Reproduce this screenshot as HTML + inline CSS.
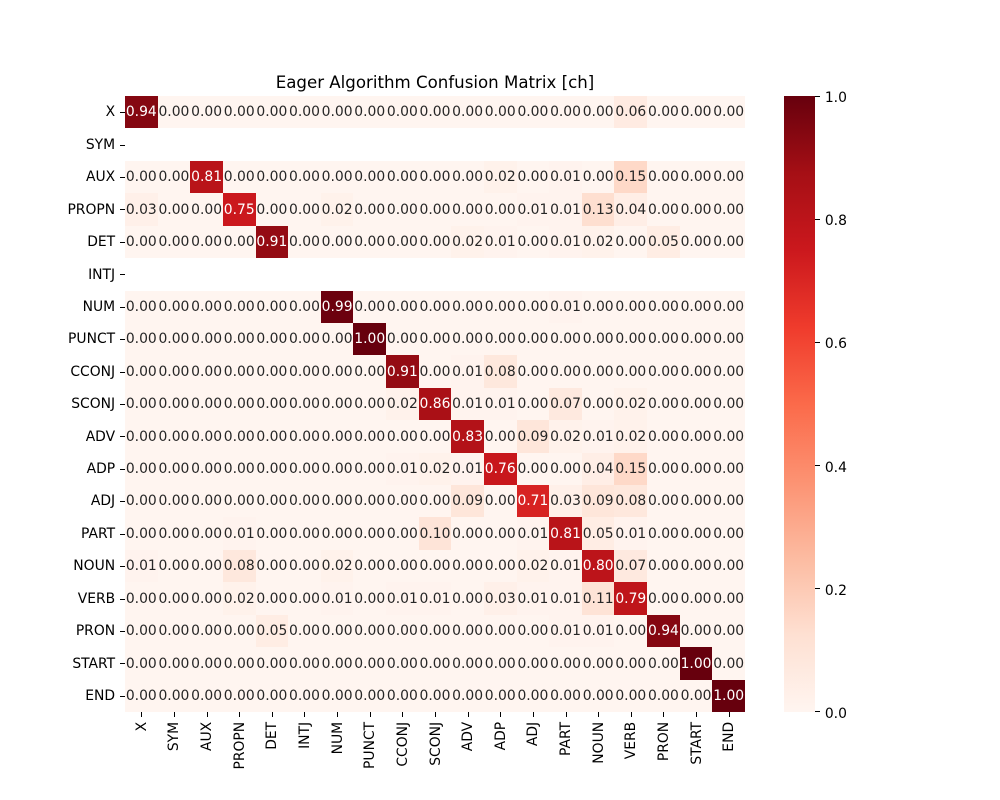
<!DOCTYPE html>
<html lang="en">
<head>
<meta charset="utf-8">
<title>Eager Algorithm Confusion Matrix [ch]</title>
<style>
  html, body { margin: 0; padding: 0; background: #fff; }
  svg { display: block; }
  text { font-family: "DejaVu Sans", "Liberation Sans", sans-serif; font-size: 13.89px; fill: #000; }
  #plot-title { font-size: 16.64px; }
</style>
</head>
<body>
<svg id="chart" width="1000" height="800" viewBox="0 0 1000 800" xmlns="http://www.w3.org/2000/svg">
  <defs>
    <linearGradient id="reds-gradient" x1="0" y1="1" x2="0" y2="0"></linearGradient>
  </defs>
  <text id="plot-title" x="435" y="88" text-anchor="middle">Eager Algorithm Confusion Matrix [ch]</text>
  <g id="cells"></g>
  <g id="annotations"></g>
  <g id="y-axis"></g>
  <g id="x-axis"></g>
  <g id="colorbar"></g>
</svg>
<script>
const categories = ["X","SYM","AUX","PROPN","DET","INTJ","NUM","PUNCT","CCONJ","SCONJ","ADV","ADP","ADJ","PART","NOUN","VERB","PRON","START","END"];
const rowX     = [0.94,0,0,0,0,0,0,0,0,0,0,0,0,0,0,0.06,0,0,0];
const rowSYM   = null;
const rowAUX   = [0,0,0.81,0,0,0,0,0,0,0,0,0.02,0,0.01,0,0.15,0,0,0];
const rowPROPN = [0.03,0,0,0.75,0,0,0.02,0,0,0,0,0,0.01,0.01,0.13,0.04,0,0,0];
const rowDET   = [0,0,0,0,0.91,0,0,0,0,0,0.02,0.01,0,0.01,0.02,0,0.05,0,0];
const rowINTJ  = null;
const rowNUM   = [0,0,0,0,0,0,0.99,0,0,0,0,0,0,0.01,0,0,0,0,0];
const rowPUNCT = [0,0,0,0,0,0,0,1.00,0,0,0,0,0,0,0,0,0,0,0];
const rowCCONJ = [0,0,0,0,0,0,0,0,0.91,0,0.01,0.08,0,0,0,0,0,0,0];
const rowSCONJ = [0,0,0,0,0,0,0,0,0.02,0.86,0.01,0.01,0,0.07,0,0.02,0,0,0];
const rowADV   = [0,0,0,0,0,0,0,0,0,0,0.83,0,0.09,0.02,0.01,0.02,0,0,0];
const rowADP   = [0,0,0,0,0,0,0,0,0.01,0.02,0.01,0.76,0,0,0.04,0.15,0,0,0];
const rowADJ   = [0,0,0,0,0,0,0,0,0,0,0.09,0,0.71,0.03,0.09,0.08,0,0,0];
const rowPART  = [0,0,0,0.01,0,0,0,0,0,0.10,0,0,0.01,0.81,0.05,0.01,0,0,0];
const rowNOUN  = [0.01,0,0,0.08,0,0,0.02,0,0,0,0,0,0.02,0.01,0.80,0.07,0,0,0];
const rowVERB  = [0,0,0,0.02,0,0,0.01,0,0.01,0.01,0,0.03,0.01,0.01,0.11,0.79,0,0,0];
const rowPRON  = [0,0,0,0,0.05,0,0,0,0,0,0,0,0,0.01,0.01,0,0.94,0,0];
const rowSTART = [0,0,0,0,0,0,0,0,0,0,0,0,0,0,0,0,0,1.00,0];
const rowEND   = [0,0,0,0,0,0,0,0,0,0,0,0,0,0,0,0,0,0,1.00];
const matrix = [rowX,rowSYM,rowAUX,rowPROPN,rowDET,rowINTJ,rowNUM,rowPUNCT,rowCCONJ,rowSCONJ,rowADV,rowADP,rowADJ,rowPART,rowNOUN,rowVERB,rowPRON,rowSTART,rowEND];
const colorbarTicks = [0.0,0.2,0.4,0.6,0.8,1.0];
const redsPalette = ["#fff5f0","#fee0d2","#fcbba1","#fc9272","#fb6a4a","#ef3b2c","#cb181d","#a50f15","#67000d"];

const NS = "http://www.w3.org/2000/svg";
const plotLeft = 125, plotRight = 745, plotTop = 96, plotBottom = 712;
const barLeft = 784, barRight = 815;
const tickLen = 5, tickPad = 4.86;
const baselineShift = 4.2;
const xLabelShift = 4.5;
const barLabelShift = 6;

const xBand = i => plotLeft + (plotRight - plotLeft) * i / categories.length;
const yBand = i => plotTop + (plotBottom - plotTop) * i / categories.length;
const barY = v => plotBottom - (plotBottom - plotTop) * v;
const snap = p => Math.floor(p + 0.5) + 0.5;

function hexToRgb(h) {
  return [parseInt(h.slice(1,3),16), parseInt(h.slice(3,5),16), parseInt(h.slice(5,7),16)];
}
function colorFor(v) {
  const p = Math.max(0, Math.min(1, v)) * (redsPalette.length - 1);
  const i = Math.min(Math.floor(p), redsPalette.length - 2);
  const a = hexToRgb(redsPalette[i]), b = hexToRgb(redsPalette[i + 1]);
  return a.map((c, k) => Math.round(c + (b[k] - c) * (p - i)));
}
function luminance(rgb) {
  const l = rgb.map(c => { c /= 255; return c <= 0.03928 ? c / 12.92 : Math.pow((c + 0.055) / 1.055, 2.4); });
  return 0.2126 * l[0] + 0.7152 * l[1] + 0.0722 * l[2];
}
function make(tag, attrs, parent) {
  const el = document.createElementNS(NS, tag);
  for (const k in attrs) el.setAttribute(k, attrs[k]);
  parent.appendChild(el);
  return el;
}

const cellsG = document.getElementById("cells");
const annG = document.getElementById("annotations");
const yG = document.getElementById("y-axis");
const xG = document.getElementById("x-axis");
const cbG = document.getElementById("colorbar");

matrix.forEach((row, r) => {
  if (!row) return;
  row.forEach((v, c) => {
    const rgb = colorFor(v);
    const x0 = Math.round(xBand(c)), x1 = Math.round(xBand(c + 1));
    const y0 = Math.round(yBand(r)), y1 = Math.round(yBand(r + 1));
    const rect = make("rect", { x: x0, y: y0, width: x1 - x0, height: y1 - y0, fill: `rgb(${rgb.join(",")})`, "shape-rendering": "crispEdges" }, cellsG);
    
    
    const t = make("text", { x: (xBand(c) + xBand(c + 1)) / 2, y: Math.round((yBand(r) + yBand(r + 1)) / 2 + baselineShift), "text-anchor": "middle" }, annG);
    t.style.fill = luminance(rgb) > 0.408 ? "#262626" : "#ffffff";
    t.textContent = v.toFixed(2);
    
    
  });
});

categories.forEach((name, i) => {
  const yc = (yBand(i) + yBand(i + 1)) / 2;
  const yTickPos = snap(yc);
  const yTick = make("line", { x1: plotLeft - tickLen, x2: plotLeft, y1: yTickPos, y2: yTickPos, stroke: "#000", "stroke-width": 1, "shape-rendering": "crispEdges" }, yG);
  
  
  const yLabel = make("text", { x: plotLeft - tickLen - tickPad, y: Math.round(yc + baselineShift), "text-anchor": "end" }, yG);
  yLabel.textContent = name;
  
  

  const xc = (xBand(i) + xBand(i + 1)) / 2;
  const xTickPos = snap(xc);
  const xTick = make("line", { x1: xTickPos, x2: xTickPos, y1: plotBottom, y2: plotBottom + tickLen, stroke: "#000", "stroke-width": 1, "shape-rendering": "crispEdges" }, xG);
  
  
  const lx = Math.round(xc + xLabelShift), ly = plotBottom + tickLen + tickPad;
  const xLabel = make("text", { x: lx, y: ly, "text-anchor": "end", transform: `rotate(-90 ${lx} ${ly})` }, xG);
  xLabel.textContent = name;
  
  
});

const grad = document.getElementById("reds-gradient");
redsPalette.forEach((col, i) => {
  make("stop", { offset: i / (redsPalette.length - 1), "stop-color": col }, grad);
});
const bar = make("rect", { x: barLeft, y: plotTop, width: barRight - barLeft, height: plotBottom - plotTop, fill: "url(#reds-gradient)" }, cbG);


colorbarTicks.forEach(v => {
  const y = barY(v);
  const barTickPos = Math.floor(y) + 0.5 - (v === 0 ? 1 : 0);
  const tick = make("line", { x1: barRight, x2: barRight + tickLen, y1: barTickPos, y2: barTickPos, stroke: "#000", "stroke-width": 1, "shape-rendering": "crispEdges" }, cbG);
  
  
  const label = make("text", { x: barRight + tickLen + tickPad, y: Math.round(y + barLabelShift) }, cbG);
  label.textContent = v.toFixed(1);
  
  
});
</script>
</body>
</html>
